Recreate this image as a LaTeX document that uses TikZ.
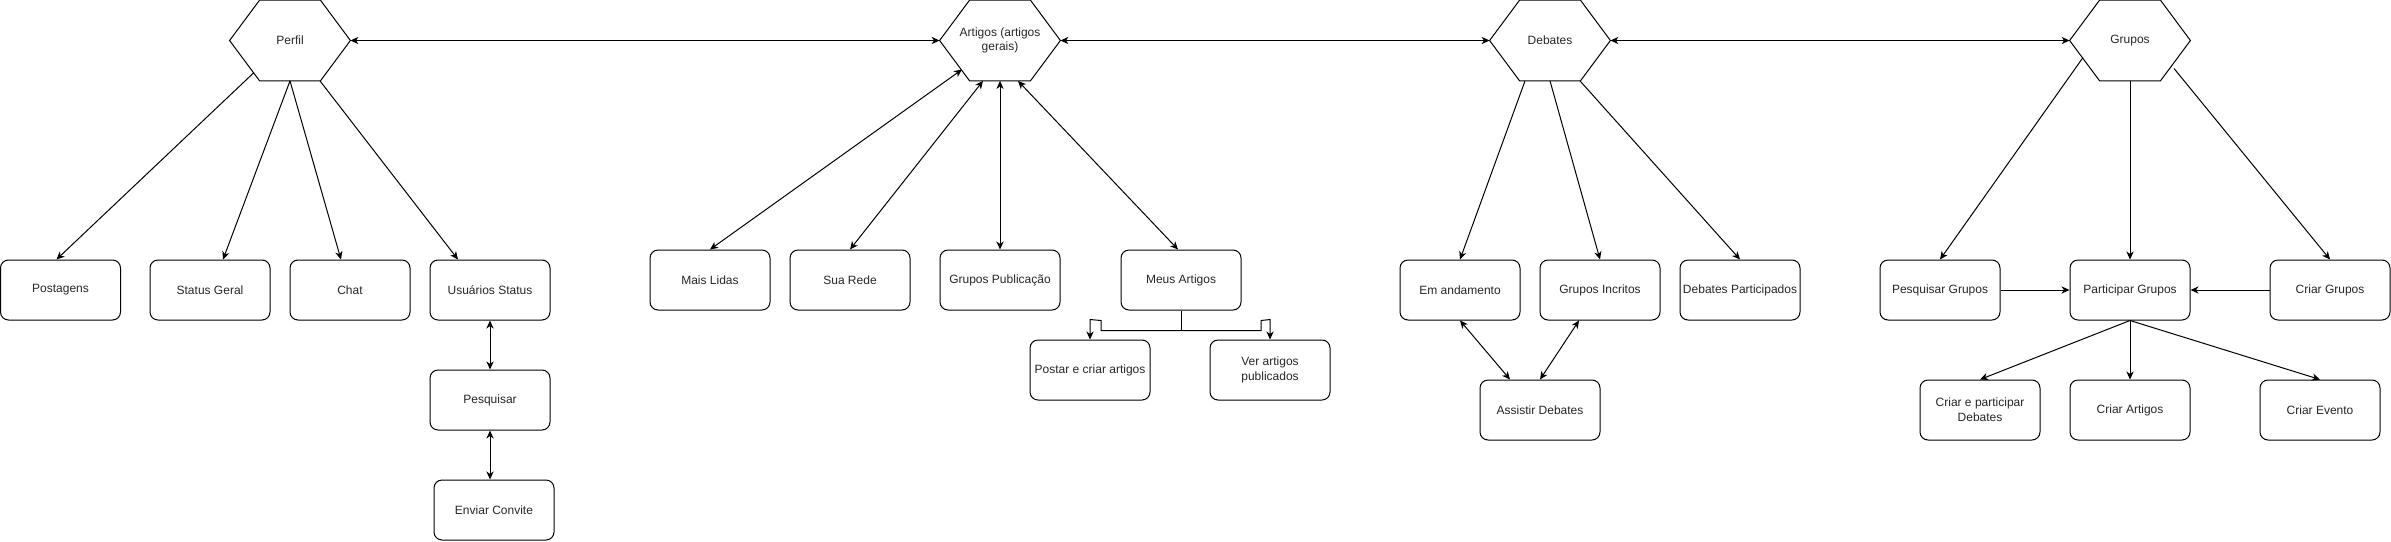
\documentclass[tikz,border=0pt]{standalone}
\usepackage{fontspec}
\setmainfont{Liberation Sans}
\usetikzlibrary{calc,arrows.meta}
\definecolor{txt}{HTML}{262626}
\newcommand\drawhexa[1]{\draw[hexline] (#1.west) -- ($(#1.north west)+(30,0)$) -- ($(#1.north east)+(-30,0)$) -- (#1.east) -- ($(#1.south east)+(-30,0)$) -- ($(#1.south west)+(30,0)$) -- cycle;}
\tikzset{
  hexline/.style={draw=black, line width=0.5pt, line join=miter},
  hexnode/.style={draw=none, minimum width=60pt, minimum height=40pt, inner sep=0pt, align=center, text=txt, font=\fontsize{6}{7.3}\selectfont},
  box/.style={draw=black, line width=0.5pt, rounded corners=4pt, minimum width=60pt, minimum height=30pt, inner sep=0pt, align=center, text=txt, font=\fontsize{6}{7.3}\selectfont},
  arr/.style={line width=0.5pt, -{Stealth[length=4pt,width=3.6pt,inset=1.2pt]}},
  dbl/.style={line width=0.5pt, {Stealth[length=4pt,width=3.6pt,inset=1.2pt]}-{Stealth[length=4pt,width=3.6pt,inset=1.2pt]}}
}
\begin{document}
\begin{tikzpicture}[x=0.5pt, y=-0.5pt]
\useasboundingbox (0,0) rectangle (2391,541);
% hexagons
\node[hexnode] (P) at (290,40.5) {Perfil};
\node[hexnode] (A) at (1000,40.5) {Artigos (artigos\\gerais)};
\node[hexnode] (D) at (1550,40.5) {Debates};
\node[hexnode] (G) at (2130,40.5) {Grupos};
\drawhexa{P}
\drawhexa{A}
\drawhexa{D}
\drawhexa{G}
% Perfil children
\node[box] (post) at (60.5,290) {Postagens};
\node[box] (stat) at (210,290) {Status Geral};
\node[box] (chat) at (350,290) {Chat};
\node[box] (usu) at (490,290) {Usuários Status};
\node[box] (pesq) at (490,400) {Pesquisar};
\node[box] (env) at (494,510) {Enviar Convite};
% Artigos children
\node[box] (mais) at (710,280) {Mais Lidas};
\node[box] (rede) at (850,280) {Sua Rede};
\node[box] (gpub) at (1000,280) {Grupos Publicação};
\node[box] (meus) at (1181,280) {Meus Artigos};
\node[box] (postar) at (1090,370) {Postar e criar artigos};
\node[box] (ver) at (1270,370) {Ver artigos\\publicados};
% Debates children
\node[box] (anda) at (1460,290) {Em andamento};
\node[box] (incr) at (1600,290) {Grupos Incritos};
\node[box] (dpart) at (1740,290) {Debates Participados};
\node[box] (assist) at (1540,410) {Assistir Debates};
% Grupos children
\node[box] (pgr) at (1940,290) {Pesquisar Grupos};
\node[box] (part) at (2130,290) {Participar Grupos};
\node[box] (cgr) at (2330,290) {Criar Grupos};
\node[box] (cdeb) at (1980,410) {Criar e participar\\Debates};
\node[box] (cart) at (2130,410) {Criar Artigos};
\node[box] (cev) at (2320,410) {Criar Evento};
% main row
\draw[dbl] (P.east) -- (A.west);
\draw[dbl] (A.east) -- (D.west);
\draw[dbl] (D.east) -- (G.west);
% Perfil
\draw[arr] ($(P.center)+(-36,32)$) -- ($(post.north)+(-4,0)$);
\draw[arr] (P.south) -- ($(stat.north)+(13,0)$);
\draw[arr] (P.south) -- ($(chat.north)+(-9,0)$);
\draw[arr] ($(P.south)+(30,0)$) -- ($(usu.north)+(-32,0)$);
\draw[dbl] (usu.south) -- (pesq.north);
\draw[dbl] (pesq.south) -- (pesq.south |- env.north);
% Artigos
\draw[dbl] ($(A.center)+(-38,29)$) -- (mais.north);
\draw[dbl] ($(A.south)+(-17,0)$) -- (rede.north);
\draw[dbl] (A.south) -- (gpub.north);
\draw[dbl] ($(A.south)+(18,0)$) -- ($(meus.north)+(-3,0)$);
\coordinate (bus) at ($(meus.south)+(0,20)$);
\draw[line width=0.5pt] (meus.south) -- (bus);
\draw[arr] (bus) -- ($(bus)+(-80,0)$) -- ++(0,-10) -- ($(postar.north)+(0,-20)$) -- (postar.north);
\draw[arr] (bus) -- ($(bus)+(80,0)$) -- ++(0,-10) -- ($(ver.north)+(0,-20)$) -- (ver.north);
% Debates
\draw[arr] ($(D.south)+(-25,0)$) -- (anda.north);
\draw[arr] (D.south) -- (incr.north);
\draw[arr] ($(D.south)+(30,0)$) -- (dpart.north);
\draw[dbl] (anda.south) -- ($(assist.north)+(-30,0)$);
\draw[dbl] ($(incr.south)+(-21,0)$) -- (assist.north);
% Grupos
\draw[arr] ($(G.center)+(-47,17)$) -- (pgr.north);
\draw[arr] (G.south) -- (part.north);
\draw[arr] ($(G.center)+(44,28)$) -- (cgr.north);
\draw[arr] (pgr.east) -- (part.west);
\draw[arr] (cgr.west) -- (part.east);
\draw[arr] (part.south) -- (cdeb.north);
\draw[arr] (part.south) -- (cart.north);
\draw[arr] (part.south) -- (cev.north);
\end{tikzpicture}
\end{document}
